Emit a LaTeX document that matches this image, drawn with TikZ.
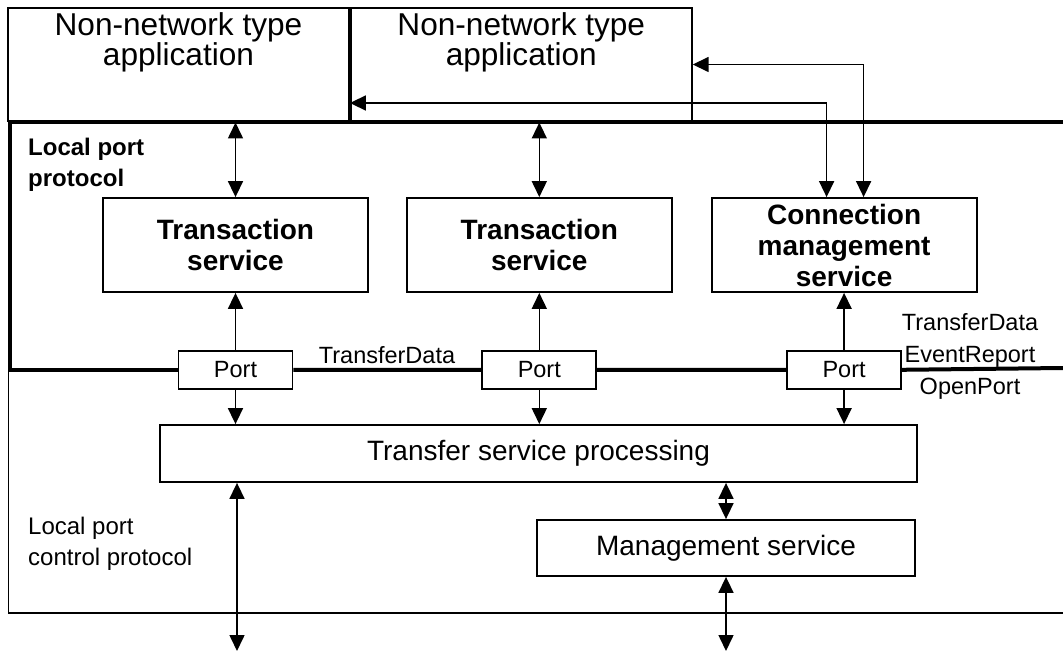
\documentclass[tikz,border=0pt]{standalone}
\usepackage{fontspec}
\setmainfont{Liberation Sans}
\usepackage{tikz}
\usetikzlibrary{arrows.meta,positioning,calc}

\begin{document}
\begin{tikzpicture}[
    x=1pt, y=-1pt,
    node distance=37pt,
    appbox/.style={rectangle, draw, line width=1.8pt, minimum width=341pt,
        minimum height=113pt, inner sep=0pt},
    applabel/.style={anchor=north, yshift=-5pt, inner sep=0pt, align=center,
        font=\fontsize{31.6}{30}\selectfont},
    svcbox/.style={rectangle, draw, line width=1.8pt, minimum width=265pt,
        minimum height=94pt, inner sep=0pt, align=center,
        font=\bfseries\fontsize{28}{31}\selectfont},
    portbox/.style={rectangle, draw, fill=white, line width=1.8pt, minimum width=114pt,
        minimum height=38pt, inner sep=0pt, font=\fontsize{23.5}{28}\selectfont},
    procbox/.style={rectangle, draw, line width=1.8pt, inner sep=0pt,
        font=\fontsize{28}{32}\selectfont},
    lbl/.style={inner sep=0pt, align=left, font=\fontsize{23.5}{31.5}\selectfont},
    thickframe/.style={line width=4pt},
    arr/.style={{Triangle[length=16pt,width=15pt]}-{Triangle[length=16pt,width=15pt]}, line width=1.6pt},
    uarr/.style={-{Triangle[length=16pt,width=15pt]}, line width=1.6pt}
]
\useasboundingbox (0,0) rectangle (1063,652);

% applications
\node[appbox, label={[applabel]north:{Non-network type\\application}}] (appA) at (178.5,64.5) {};
\node[appbox, label={[applabel]north:{Non-network type\\application}}, right=0pt of appA] (appB) {};

% services
\node[svcbox] (transA) at (235.5,245) {Transaction\\service};
\node[svcbox, right=of transA] (transB) {Transaction\\service};
\node[svcbox, right=38pt of transB] (conn) {Connection\\management\\service};

\node[portbox, below=57pt of transA] (portA) {Port};
\node[portbox, below=57pt of transB] (portB) {Port};
\node[portbox, below=57pt of conn] (portC) {Port};

\node[procbox, minimum width=757pt, minimum height=57pt] (proc) at (538.5,453.5) {Transfer service processing};
\node[procbox, minimum width=378pt, minimum height=56pt] (mgmt) at (726,548) {Management service};

% frame
\coordinate (frNW) at (10,122.5);
\coordinate (frNE) at (1063,122.5);
\coordinate (frE) at (1063,368);
\coordinate (frSW) at (8.5,613);
\coordinate (frSE) at (1063,613);
\draw[thickframe] (frNE) -- (frNW) -- (frNW |- portA.west) -- (portA.west);
\draw[thickframe] (portA.east) -- (portB.west) (portB.east) -- (portC.west) (portC.east) -- (frE);
\draw[line width=1.8pt] (frSW |- portA.west) -- (frSW) -- (frSE);

% labels
\node[lbl, font=\bfseries\fontsize{24}{31}\selectfont, anchor=north west] (lpp) at (28,138) {Local port\\protocol};
\node[lbl, anchor=center] (tdA) at (387,355) {TransferData};
\node[lbl, align=center, anchor=north, font=\fontsize{23.5}{32}\selectfont] (tdC) at (970,313) {TransferData\\EventReport\\OpenPort};
\node[lbl, font=\fontsize{24}{31}\selectfont, anchor=north west] (lpcp) at (28,517) {Local port\\control protocol};

% connectors
\draw[arr] (transA.north) -- (transA.north |- frNW);
\draw[arr] (transB.north) -- (transB.north |- frNW);
\draw[arr] ($(conn.north)+(-17.5,0)$) |- ([yshift=-38.5pt]appB.west);
\draw[arr] ($(conn.north)+(19.5,0)$) |- (appB.east);

\draw[uarr] (portA) -- (transA);
\draw[uarr] (portB) -- (transB);
\draw[uarr] (portC) -- (conn);
\draw[uarr] (portA) -- (portA |- proc.north);
\draw[uarr] (portB) -- (portB |- proc.north);
\draw[uarr] (portC) -- (portC |- proc.north);

\coordinate (outA) at (237,651);
\draw[arr] (outA |- proc.south) -- (outA);
\draw[arr] (mgmt.north) -- (mgmt.north |- proc.south);
\draw[arr] (mgmt.south) -- (mgmt.south |- outA);
\end{tikzpicture}
\end{document}
